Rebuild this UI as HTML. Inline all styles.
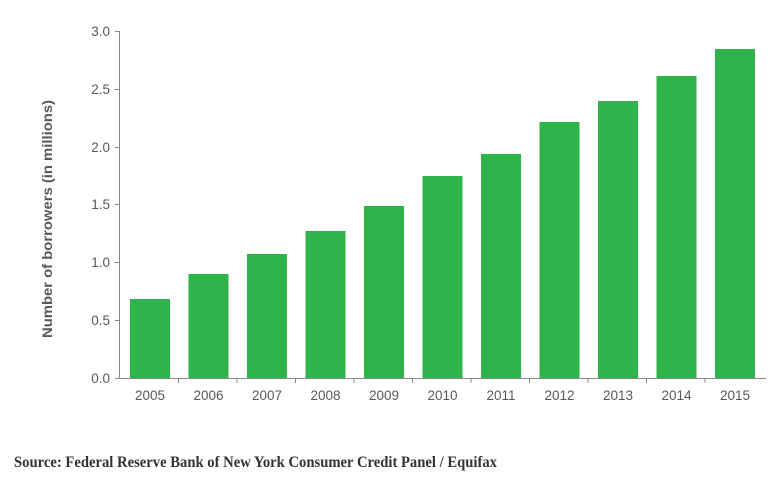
<!DOCTYPE html>
<html><head><style>body{margin:0;background:#fff}</style></head><body>
<svg width="780" height="481" xmlns="http://www.w3.org/2000/svg" font-family="Liberation Sans, sans-serif">
<rect width="780" height="481" fill="#fff"/>
<g fill="#2fb34b">
<rect x="130" y="299" width="40" height="79"/>
<rect x="188.5" y="274" width="40" height="104"/>
<rect x="247" y="254" width="40" height="124"/>
<rect x="305.5" y="231" width="40" height="147"/>
<rect x="364" y="206" width="40" height="172"/>
<rect x="422.5" y="176" width="40" height="202"/>
<rect x="481" y="154" width="40" height="224"/>
<rect x="539.5" y="122" width="40" height="256"/>
<rect x="598" y="101" width="40" height="277"/>
<rect x="656.5" y="76" width="40" height="302"/>
<rect x="715" y="49" width="40" height="329"/>
</g>
<g stroke="#888" stroke-width="1">
<line x1="119.5" y1="31" x2="119.5" y2="378"/>
<line x1="115" y1="378.5" x2="766" y2="378.5"/>
<line x1="115" y1="31.5" x2="119" y2="31.5"/>
<line x1="115" y1="89.5" x2="119" y2="89.5"/>
<line x1="115" y1="147.5" x2="119" y2="147.5"/>
<line x1="115" y1="204.5" x2="119" y2="204.5"/>
<line x1="115" y1="262.5" x2="119" y2="262.5"/>
<line x1="115" y1="320.5" x2="119" y2="320.5"/>
<line x1="178.5" y1="378" x2="178.5" y2="383"/>
<line x1="237" y1="378" x2="237" y2="383"/>
<line x1="295.5" y1="378" x2="295.5" y2="383"/>
<line x1="354" y1="378" x2="354" y2="383"/>
<line x1="412.5" y1="378" x2="412.5" y2="383"/>
<line x1="471" y1="378" x2="471" y2="383"/>
<line x1="529.5" y1="378" x2="529.5" y2="383"/>
<line x1="588" y1="378" x2="588" y2="383"/>
<line x1="646.5" y1="378" x2="646.5" y2="383"/>
<line x1="705" y1="378" x2="705" y2="383"/>
</g>
<g fill="#595959" font-size="13.5" text-anchor="end">
<text x="110" y="36">3.0</text>
<text x="110" y="94">2.5</text>
<text x="110" y="152">2.0</text>
<text x="110" y="209">1.5</text>
<text x="110" y="267">1.0</text>
<text x="110" y="325">0.5</text>
<text x="110" y="383">0.0</text>
</g>
<g fill="#595959" font-size="13.5" text-anchor="middle">
<text x="150" y="400">2005</text>
<text x="208.5" y="400">2006</text>
<text x="267" y="400">2007</text>
<text x="325.5" y="400">2008</text>
<text x="384" y="400">2009</text>
<text x="442.5" y="400">2010</text>
<text x="501" y="400">2011</text>
<text x="559.5" y="400">2012</text>
<text x="618" y="400">2013</text>
<text x="676.5" y="400">2014</text>
<text x="735" y="400">2015</text>
</g>
<text transform="translate(52,219) rotate(-90)" text-anchor="middle" font-size="14" font-weight="bold" fill="#595959" textLength="238" lengthAdjust="spacingAndGlyphs">Number of borrowers (in millions)</text>
<text x="14" y="467" font-family="Liberation Serif, serif" font-size="15.5" font-weight="bold" fill="#333" textLength="483" lengthAdjust="spacingAndGlyphs">Source: Federal Reserve Bank of New York Consumer Credit Panel / Equifax</text>
</svg>
</body></html>
